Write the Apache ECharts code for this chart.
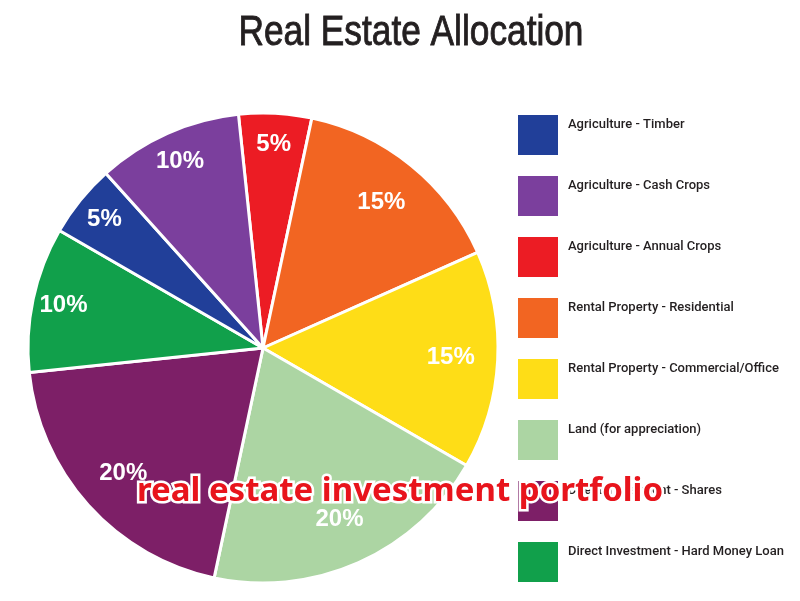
<!DOCTYPE html>
<html>
<head>
<meta charset="utf-8">
<script src="https://cdn.jsdelivr.net/npm/echarts@6/dist/echarts.min.js"></script>
<style>
html,body{margin:0;padding:0;background:#fff;}
#chart{width:800px;height:601px;}
</style>
</head>
<body>
<div id="chart"></div>
<script>
const titleText = 'Real Estate Allocation';
const watermarkText = 'real estate investment portfolio';
const categories = [
  'Agriculture - Timber',
  'Agriculture - Cash Crops',
  'Agriculture - Annual Crops',
  'Rental Property - Residential',
  'Rental Property - Commercial/Office',
  'Land (for appreciation)',
  'Direct Investment - Shares',
  'Direct Investment - Hard Money Loan'
];
const values = [5, 10, 5, 15, 15, 20, 20, 10];
const colors = ['#213f99', '#7b3f9d', '#ec1c24', '#f26522', '#fedd17', '#acd5a3', '#7d1f67', '#11a04b'];
// clockwise order of slices around the pie, starting at the top
const pieOrder = [2, 3, 4, 5, 6, 7, 0, 1];

const pieData = pieOrder.map(i => ({ name: categories[i], value: values[i], itemStyle: { color: colors[i] } }));
const bigLabelData = pieOrder.map(i => ({ name: categories[i], value: values[i], label: { show: values[i] >= 15 } }));
const smallLabelData = pieOrder.map(i => ({ name: categories[i], value: values[i], label: { show: values[i] < 15 } }));

const labelStyle = {
  position: 'inside',
  formatter: p => p.value + '%',
  color: '#ffffff',
  fontFamily: '"Liberation Sans", Arial, sans-serif',
  fontWeight: 'bold',
  fontSize: 24
};
function labelSeries(radius, data) {
  return {
    type: 'pie',
    center: [263, 348],
    radius: radius,
    startAngle: 96,
    clockwise: true,
    silent: true,
    legendHoverLink: false,
    itemStyle: { color: 'rgba(0,0,0,0)', borderWidth: 0 },
    emphasis: { disabled: true },
    labelLine: { show: false },
    label: labelStyle,
    data: data
  };
}

const chart = echarts.init(document.getElementById('chart'), null, { renderer: 'canvas' });
chart.setOption({
  backgroundColor: '#ffffff',
  animation: false,
  legend: {
    orient: 'vertical',
    left: 518,
    top: 115,
    padding: 0,
    itemWidth: 40,
    itemHeight: 40,
    itemGap: 21,
    icon: 'rect',
    itemStyle: { borderWidth: 0 },
    data: categories,
    selectedMode: false,
    formatter: name => '{t|' + name + '}\n{s| }',
    textStyle: {
      padding: [0, 0, 0, 5],
      rich: {
        t: {
          fontFamily: 'Roboto, "Liberation Sans", Arial, sans-serif',
          fontSize: 13,
          fontWeight: 500,
          lineHeight: 16,
          color: '#231f20'
        },
        s: { fontSize: 2, lineHeight: 21 }
      }
    }
  },
  series: [
    {
      type: 'pie',
      center: [263, 348],
      radius: [0, 235],
      startAngle: 96,
      clockwise: true,
      label: { show: false },
      labelLine: { show: false },
      itemStyle: { borderColor: '#ffffff', borderWidth: 3 },
      emphasis: { disabled: true },
      data: pieData
    },
    labelSeries([135, 235], bigLabelData),
    labelSeries([167, 235], smallLabelData)
  ],
  graphic: [
    {
      type: 'text',
      x: 411,
      y: 12,
      scaleX: 0.82,
      z: 100,
      style: {
        text: titleText,
        align: 'center',
        verticalAlign: 'top',
        fill: '#231f20',
        stroke: '#231f20',
        lineWidth: 0.9,
        font: 'normal 43px "Liberation Sans", Arial, sans-serif'
      }
    },
    {
      type: 'text',
      left: 'center',
      top: 473,
      z: 100,
      style: {
        text: watermarkText,
        fill: '#e8141c',
        stroke: '#ffffff',
        lineWidth: 5,
        font: 'bold 33px "Noto Sans", "DejaVu Sans", sans-serif',
        shadowColor: 'rgba(0,0,0,0.35)',
        shadowBlur: 3
      }
    }
  ]
});
</script>
</body>
</html>
